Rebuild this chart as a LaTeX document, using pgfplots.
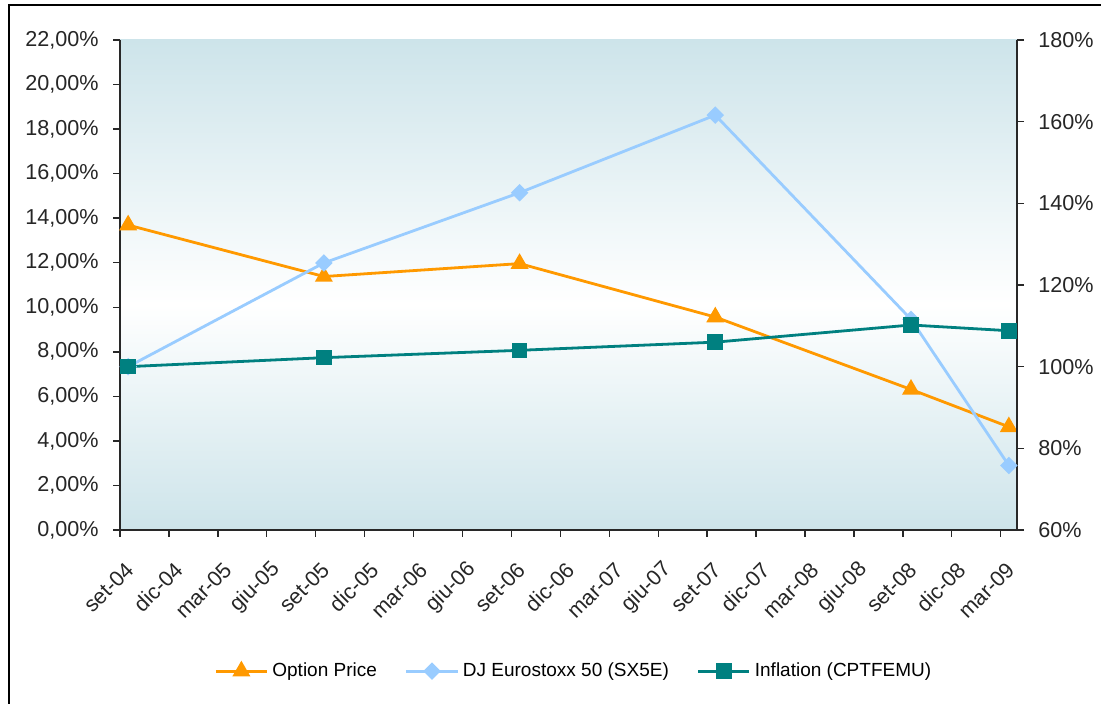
\documentclass[border=0pt]{standalone}
\usepackage{fontspec}
\setmainfont{Liberation Sans}
\usepackage{pgfplots}
\pgfplotsset{compat=1.18}
\definecolor{bgblue}{RGB}{205,228,234}
\definecolor{optorange}{RGB}{255,153,0}
\definecolor{djblue}{RGB}{153,204,255}
\definecolor{infteal}{RGB}{0,128,128}
\definecolor{axgray}{RGB}{40,40,40}

\pgfplotstableread{
x y
0.5 13.69
12.5 11.38
24.5 11.96
36.5 9.56
48.5 6.31
54.5 4.63
}\optionprice

\pgfplotstableread{
x y
0.5 100.0
12.5 125.4
24.5 142.6
36.5 161.6
48.5 111.6
54.5 75.8
}\djstoxx

\pgfplotstableread{
x y
0.5 100.0
12.5 102.2
24.5 104.0
36.5 106.0
48.5 110.2
54.5 108.8
}\inflation

\begin{document}
\begin{tikzpicture}
\useasboundingbox (0,0) rectangle (550.5pt,352pt);
% outer frame (partly cropped in the reference)
\draw[line width=1.2pt, black] (4.5pt,-20pt) -- (4.5pt,349.5pt) -- (570pt,349.5pt);
% plot area gradient
\shade[top color=bgblue, bottom color=white] (60pt,200pt) rectangle (508.5pt,332pt);
\shade[top color=white, bottom color=bgblue] (60pt,87pt) rectangle (508.5pt,200pt);

\pgfplotsset{
  every axis/.append style={
    scale only axis, width=448.5pt, height=245pt,
    at={(60pt,87pt)}, anchor=south west,
    xmin=0, xmax=55,
    axis line style={draw=axgray, line width=0.7pt, -},
    tick style={draw=axgray, line width=0.7pt},
    major tick length=3.5pt,
    tick align=outside,
    tick label style={font=\fontsize{10.8}{13}\selectfont, text=black!85},
  },
}

\begin{axis}[
  axis x line*=bottom, axis y line*=left,
  ymin=0, ymax=22,
  ytick={0,2,...,22},
  yticklabels={{0,00\%},{2,00\%},{4,00\%},{6,00\%},{8,00\%},{10,00\%},{12,00\%},{14,00\%},{16,00\%},{18,00\%},{20,00\%},{22,00\%}},
  yticklabel style={inner sep=0pt, anchor=east, xshift=-7pt},
  xtick={0,3,...,54},
  xticklabels={set-04,dic-04,mar-05,giu-05,set-05,dic-05,mar-06,giu-06,set-06,dic-06,mar-07,giu-07,set-07,dic-07,mar-08,giu-08,set-08,dic-08,mar-09},
  xticklabel style={inner sep=0pt, xshift=5pt, yshift=-14.5pt, rotate=45, anchor=east},
]
\addplot[color=optorange, line width=1.4pt, mark=triangle*, mark size=3.8pt, mark options={solid}] table[x=x,y=y] {\optionprice};
\end{axis}

\begin{axis}[
  axis y line*=right, axis x line=none,
  ymin=60, ymax=180,
  ytick={60,80,...,180},
  yticklabels={{60\%},{80\%},{100\%},{120\%},{140\%},{160\%},{180\%}},
  yticklabel style={inner sep=0pt, anchor=west, xshift=7pt},
  legend columns=3,
  legend style={at={(0.507,-0.288)}, anchor=center, draw=none, fill=none,
    font=\fontsize{9.5}{11}\selectfont,
    /tikz/every even column/.append style={column sep=12pt},
    nodes={inner xsep=2pt}},
  legend image code/.code={\draw[mark repeat=2,mark phase=2,#1] plot coordinates {(0cm,0cm) (0.45cm,0cm) (0.9cm,0cm)};},
]
\addlegendimage{color=optorange, line width=1.4pt, mark=triangle*, mark size=3.8pt, mark options={solid}}
\addlegendentry{Option Price}
\addplot[color=djblue, line width=1.4pt, mark=square*, mark size=2.4pt, mark options={solid, rotate=45}] table[x=x,y=y] {\djstoxx};
\addlegendentry{DJ Eurostoxx 50 (SX5E)}
\addplot[color=infteal, line width=1.4pt, mark=square*, mark size=3.2pt, mark options={solid}] table[x=x,y=y] {\inflation};
\addlegendentry{Inflation (CPTFEMU)}
\end{axis}
\end{tikzpicture}
\end{document}
